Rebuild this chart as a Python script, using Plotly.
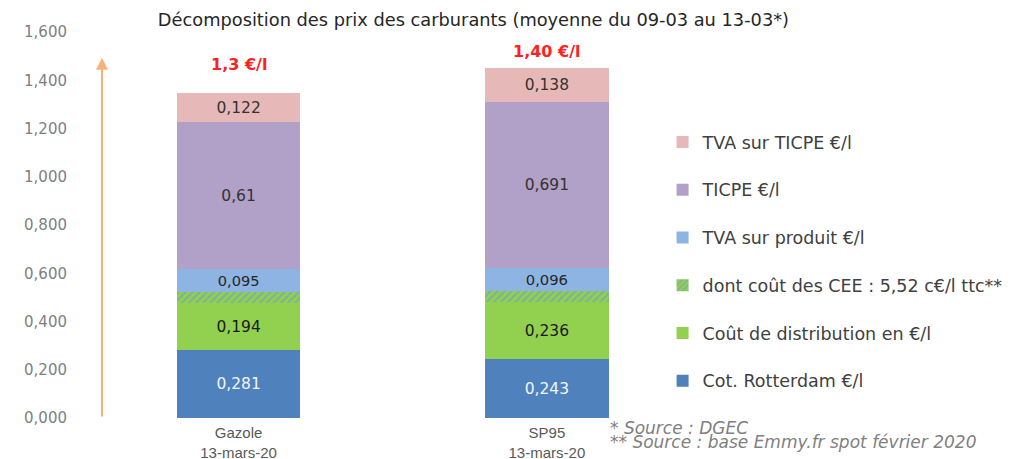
import plotly.graph_objects as go

categories = ["Gazole<br>13-mars-20", "SP95<br>13-mars-20"]
series_names = [
    "Cot. Rotterdam €/l",
    "Coût de distribution en €/l",
    "dont coût des CEE : 5,52 c€/l ttc**",
    "TVA sur produit €/l",
    "TICPE €/l",
    "TVA sur TICPE €/l",
]
rotterdam = [0.281, 0.243]
distribution = [0.194, 0.236]
cee = [0.046, 0.046]
tva_produit = [0.095, 0.096]
ticpe = [0.61, 0.691]
tva_ticpe = [0.122, 0.138]
total_labels = ["1,3 €/l", "1,40 €/l"]
ytick_vals = [0, 0.2, 0.4, 0.6, 0.8, 1.0, 1.2, 1.4, 1.6]
ytick_text = ["0,000", "0,200", "0,400", "0,600", "0,800", "1,000", "1,200", "1,400", "1,600"]

series = [rotterdam, distribution, cee, tva_produit, ticpe, tva_ticpe]
colors = ["#4f81bd", "#92d050", "#92d050", "#8db4e2", "#b1a0c7", "#e6b9b8"]
text_colors = ["#f2f5fb", "#1a1a1a", "#1a1a1a", "#262626", "#333333", "#333333"]
show_text = [True, True, False, True, True, True]

ARIAL = "Liberation Sans, Arial, sans-serif"
WIDE = "DejaVu Sans, Verdana, sans-serif"

def fmt(v):
    return str(v).replace(".", ",")

fig = go.Figure()
for i, (name, vals) in enumerate(zip(series_names, series)):
    marker = dict(color=colors[i], line=dict(width=0))
    if i == 2:
        marker["pattern"] = dict(shape="/", fgcolor="#6d95d6", bgcolor="#92d050",
                                 size=5, solidity=0.45)
    fig.add_trace(go.Bar(
        x=categories, y=vals, name=name,
        marker=marker,
        width=0.4,
        text=[fmt(v) for v in vals] if show_text[i] else None,
        textposition="inside" if show_text[i] else "none",
        insidetextanchor="middle",
        textangle=0,
        textfont=dict(family=WIDE, size=15.5, color=text_colors[i]),
        legendgroup=f"g{i}",
        legendrank=(6 - i) * 10,
        hoverinfo="skip",
    ))

totals = [sum(s[j] for s in series) for j in range(len(categories))]
yshifts = [17, 5]
for j, cat in enumerate(categories):
    fig.add_annotation(x=cat, y=totals[j], text=f"<b>{total_labels[j]}</b>",
                       showarrow=False, yanchor="bottom", yshift=yshifts[j],
                       font=dict(family=WIDE, size=16, color="#ff2020"))

# orange arrow
fig.add_annotation(xref="paper", x=0, yref="y", y=1.494, axref="pixel", ax=0,
                   ayref="y", ay=0, text="", showarrow=True, arrowhead=2,
                   arrowsize=1.2, arrowwidth=2, arrowcolor="#f9b17c")

fig.add_annotation(xref="paper", yref="paper", x=0.864, y=-0.0244, xanchor="left",
                   yanchor="middle", showarrow=False, text="<i>* Source : DGEC</i>",
                   borderpad=0,
                   font=dict(family=WIDE, size=17, color="#808080"))
fig.add_annotation(xref="paper", yref="paper", x=0.864, y=-0.0585, xanchor="left",
                   yanchor="middle", showarrow=False,
                   text="<i>** Source : base Emmy.fr spot février 2020</i>",
                   borderpad=0,
                   font=dict(family=WIDE, size=17, color="#808080"))

fig.update_layout(
    barmode="stack",
    width=1016, height=459,
    margin=dict(l=102, r=316, t=8, b=41),
    paper_bgcolor="white", plot_bgcolor="white",
    title=dict(text="Décomposition des prix des carburants (moyenne du 09-03 au 13-03*)",
               x=0.466, xref="container", xanchor="center",
               y=1 - 20 / 459, yref="container", yanchor="middle",
               font=dict(family=WIDE, size=17.8, color="#262626")),
    font=dict(family=ARIAL),
    showlegend=True,
    legend=dict(x=0.955, xanchor="left", y=0.717, yanchor="top",
                traceorder="grouped", tracegroupgap=22,
                font=dict(family=WIDE, size=17.5, color="#404040"),
                itemwidth=30, bgcolor="rgba(0,0,0,0)"),
)
fig.update_xaxes(range=[-0.443, 1.461], showline=False, ticks="", automargin=False,
                 ticklabelstandoff=4,
                 tickfont=dict(family=ARIAL, size=15, color="#595959"))
fig.update_yaxes(range=[0, 1.7], tickvals=ytick_vals, ticktext=ytick_text,
                 showgrid=False, zeroline=False, showline=False, ticks="",
                 automargin=False, ticklabelstandoff=34,
                 tickfont=dict(family=WIDE, size=15, color="#808080"))

fig.write_html("out.html", config={"displayModeBar": False},
               post_script="document.body.style.margin='0';")
